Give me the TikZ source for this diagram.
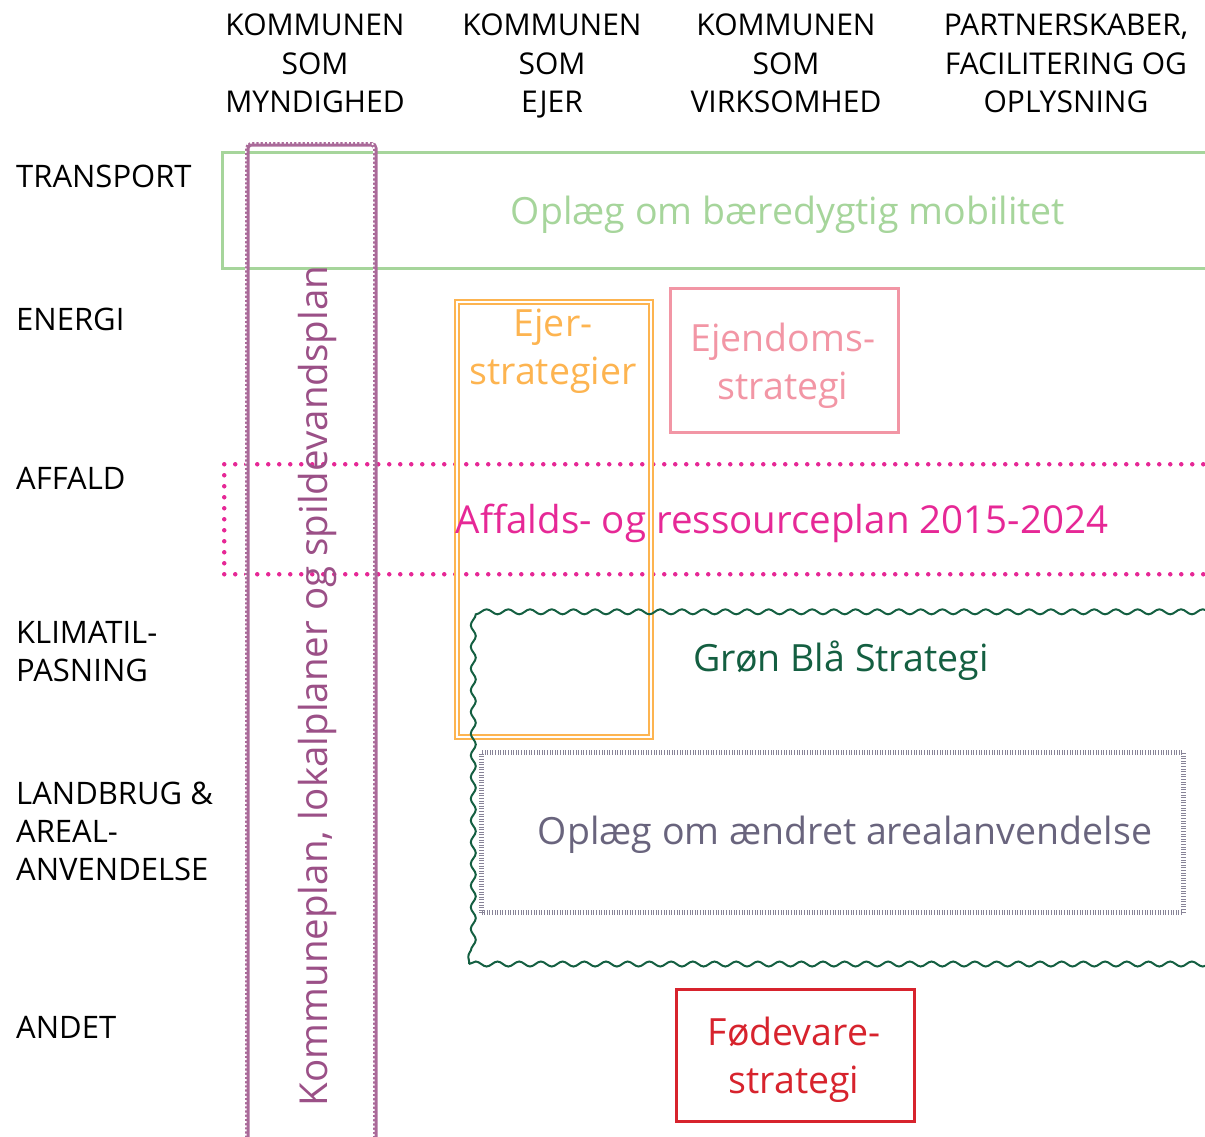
\documentclass[tikz,border=0pt]{standalone}
\usepackage{fontspec}
\setmainfont{Open Sans}
\usetikzlibrary{decorations.pathmorphing}
\definecolor{cgreen}{RGB}{166,213,155}
\definecolor{cpurple}{RGB}{155,80,135}
\definecolor{corange}{RGB}{253,180,80}
\definecolor{cpink}{RGB}{242,150,165}
\definecolor{cmagenta}{RGB}{230,40,150}
\definecolor{cdgreen}{RGB}{20,95,65}
\definecolor{cgrey}{RGB}{105,100,125}
\definecolor{cred}{RGB}{215,35,45}
\tikzset{
  hdr/.style={align=center,anchor=north,font=\fontsize{30}{38.5}\selectfont,inner sep=0pt},
  rowlbl/.style={anchor=west,align=left,font=\fontsize{31}{38}\selectfont,inner sep=0pt},
  big/.style={align=center,font=\fontsize{37.5}{48}\selectfont,inner sep=0pt},
  box/.style={rectangle,inner sep=0pt,line width=2.5pt},
}
\begin{document}
\begin{tikzpicture}[x=1pt,y=-1pt]
\useasboundingbox (0,0) rectangle (1205,1136);
\clip (0,0) rectangle (1205,1136);
% headers
\node[hdr] (h1) at (315,14) {KOMMUNEN\\SOM\\MYNDIGHED};
\node[hdr] (h2) at (552,14) {KOMMUNEN\\SOM\\EJER};
\node[hdr] (h3) at (786,14) {KOMMUNEN\\SOM\\VIRKSOMHED};
\node[hdr] (h4) at (1066,14) {PARTNERSKABER,\\FACILITERING OG\\OPLYSNING};
% row labels
\node[rowlbl] (r1) at (16,176) {TRANSPORT};
\node[rowlbl] (r2) at (16,319) {ENERGI};
\node[rowlbl] (r3) at (16,478) {AFFALD};
\node[rowlbl] (r4) at (16,652) {KLIMATIL-\\PASNING};
\node[rowlbl] (r5) at (16,831) {LANDBRUG \&\\AREAL-\\ANVENDELSE};
\node[rowlbl] (r6) at (16,1027) {ANDET};
% transport box
\node[box,draw=cgreen,minimum width=1100,minimum height=116,anchor=north west] (tbox) at (221,151) {};
\node[big,text=cgreen] (ttxt) at (788,215) {Oplæg om bæredygtig mobilitet};
% affald dotted box
\node[box,draw=cmagenta,line width=4.5pt,line cap=round,dash pattern=on 0pt off 11pt,minimum width=1100,minimum height=110,anchor=north west] (abox) at (222,462) {};
% ejer strategier double
\node[box,draw=corange,line width=1.8pt,double,double distance=2.2pt,minimum width=194,minimum height=435,anchor=north west] (ebox) at (456,301) {};
\node[big,text=corange,anchor=north] (etxt) at (553,309) {Ejer-\\strategier};
% ejendoms
\node[box,draw=cpink,minimum width=228,minimum height=144,anchor=north west] (pbox) at (669,287) {};
\node[big,text=cpink] (ptxt) at (783,366) {Ejendoms-\\strategi};
% groen blaa wavy
\node[box,draw=cdgreen,line width=2pt,decorate,decoration={snake,segment length=21.7pt,amplitude=2.5pt},minimum width=800,minimum height=353,anchor=north west] (gbox) at (468,610) {};
\node[big,text=cdgreen] (gtxt) at (841,661) {Grøn Blå Strategi};
% affald text on top
\node[big,text=cmagenta,font=\fontsize{38.5}{48}\selectfont] (atxt) at (782,523) {Affalds- og ressourceplan 2015-2024};
% areal ticks box
\node[box,draw=cgrey!80,line width=5pt,dash pattern=on 1pt off 1.6pt,minimum width=702,minimum height=160,anchor=north west] (lbox) at (479,750) {};
\node[big,text=cgrey] (ltxt) at (845,835) {Oplæg om ændret arealanvendelse};
% foedevare
\node[box,draw=cred,minimum width=238,minimum height=132,anchor=north west] (fbox) at (675,988) {};
\node[big,text=cred] (ftxt) at (794,1060) {Fødevare-\\strategi};
% kommuneplan chain box
\node[box,draw=cpurple!85,line width=4.5pt,rounded corners=4pt,minimum width=128,minimum height=1100,anchor=north west] (kbox) at (245,142) {};
\node[box,draw=white,line width=1.6pt,dash pattern=on 2pt off 2.2pt,rounded corners=4pt,minimum width=128,minimum height=1100,anchor=north west] (kbox2) at (245,142) {};
\node[big,text=cpurple,rotate=90,font=\fontsize{38.5}{48}\selectfont] (ktxt) at (317,686) {Kommuneplan, lokalplaner og spildevandsplan};
\end{tikzpicture}
\end{document}
